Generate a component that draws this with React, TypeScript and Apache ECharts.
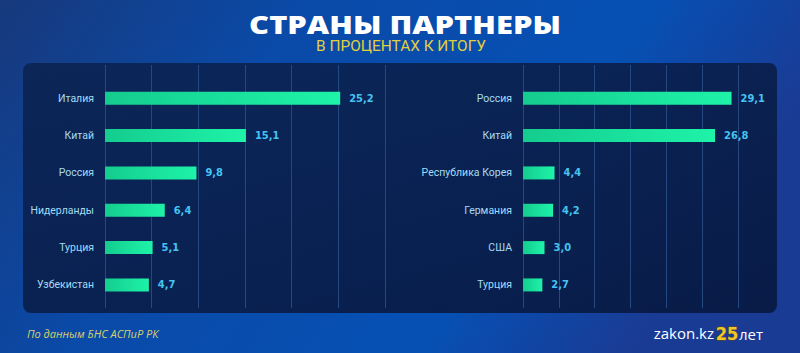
import React, { useEffect, useRef } from "react";
import * as echarts from "echarts";

const leftCategories = ["Италия", "Китай", "Россия", "Нидерланды", "Турция", "Узбекистан"];
const leftValues = [25.2, 15.1, 9.8, 6.4, 5.1, 4.7];
const rightCategories = ["Россия", "Китай", "Республика Корея", "Германия", "США", "Турция"];
const rightValues = [29.1, 26.8, 4.4, 4.2, 3.0, 2.7];
const axisMax = 30;
const axisStep = 5;

const titleText = "СТРАНЫ ПАРТНЕРЫ";
const subtitleText = "В ПРОЦЕНТАХ К ИТОГУ";
const sourceText = "По данным БНС АСПиР РК";

export default function App() {
  const ref = useRef<HTMLDivElement>(null);
  useEffect(() => {
    if (!ref.current) return;
    const chart = echarts.init(ref.current, undefined, { renderer: "svg" });
    const barGrad = new echarts.graphic.LinearGradient(0, 0, 1, 0, [
      { offset: 0, color: "#14cc8e" },
      { offset: 0.5, color: "#19e09c" },
      { offset: 1, color: "#1ef3a8" },
    ]);
    const catLabel = {
      color: "#a4dcf4",
      fontFamily: "Roboto, sans-serif",
      fontSize: 10.5,
      margin: 11,
    };
    const valLabel = {
      show: true,
      position: "right",
      distance: 9,
      color: "#45c3f2",
      fontFamily: "'DejaVu Sans Condensed', sans-serif",
      fontWeight: "bold",
      fontSize: 11,
      formatter: (p: any) => Number(p.value).toFixed(1).replace(".", ","),
    };
    const hiddenX = (gi: number) => ({
      type: "value",
      gridIndex: gi,
      min: 0,
      max: axisMax,
      interval: axisStep,
      axisLine: { show: false },
      axisTick: { show: false },
      axisLabel: { show: false },
      splitLine: { show: false },
    });
    const lineX = (gi: number) => ({
      type: "value",
      gridIndex: gi,
      min: 0,
      max: axisMax,
      interval: axisStep,
      axisLine: { show: false },
      axisTick: { show: false },
      axisLabel: { show: false },
      splitLine: { show: true, lineStyle: { color: "#24487f", width: 1 } },
    });
    const catY = (gi: number, data: string[]) => ({
      type: "category",
      gridIndex: gi,
      inverse: true,
      data,
      axisLine: { show: false },
      axisTick: { show: false },
      axisLabel: catLabel,
      splitLine: { show: false },
    });
    const hiddenY = (gi: number) => ({
      type: "value",
      gridIndex: gi,
      show: false,
      min: 0,
      max: 1,
    });
    chart.setOption({
      animation: false,
      backgroundColor: new echarts.graphic.LinearGradient(0, 0, 1, 0.3, [
        { offset: 0, color: "#17397c" },
        { offset: 0.35, color: "#0a4aa8" },
        { offset: 0.75, color: "#0650b4" },
        { offset: 1, color: "#1a3b94" },
      ]),
      graphic: [
        {
          type: "rect",
          z: -10,
          shape: { x: 23, y: 63, width: 754, height: 250, r: 8 },
          style: {
            fill: new echarts.graphic.LinearGradient(0, 0, 1, 1, [
              { offset: 0, color: "rgba(11,36,84,0.92)" },
              { offset: 1, color: "rgba(8,26,68,0.95)" },
            ]),
          },
        },
        {
          type: "text",
          x: 405,
          y: 24,
          scaleX: 1.26,
          style: {
            text: titleText,
            fill: "#ffffff",
            fontFamily: "'Open Sans', sans-serif",
            fontWeight: 800,
            fontSize: 24.5,
            align: "center",
            verticalAlign: "middle",
          },
        },
        {
          type: "text",
          x: 401,
          y: 46,
          scaleX: 1.1,
          style: {
            text: subtitleText,
            fill: "#e2d03c",
            fontFamily: "Roboto, sans-serif",
            fontSize: 14,
            align: "center",
            verticalAlign: "middle",
          },
        },
        {
          type: "text",
          x: 27,
          y: 333,
          style: {
            text: sourceText,
            fill: "#d8d06a",
            fontFamily: "'Open Sans', sans-serif",
            fontStyle: "italic",
            fontSize: 11,
            align: "left",
            verticalAlign: "middle",
          },
        },
        {
          type: "text",
          x: 714,
          y: 333,
          style: {
            text: "zakon.kz",
            fill: "#ffffff",
            fontFamily: "'Open Sans', sans-serif",
            fontSize: 15,
            align: "right",
            verticalAlign: "middle",
          },
        },
        {
          type: "text",
          x: 727,
          y: 333,
          style: {
            text: "25",
            fill: "#f0c52a",
            stroke: "#6b4a08",
            lineWidth: 0.8,
            fontFamily: "'DejaVu Sans Condensed', sans-serif",
            fontWeight: "bold",
            fontSize: 18,
            align: "center",
            verticalAlign: "middle",
          },
        },
        {
          type: "text",
          x: 739,
          y: 334,
          style: {
            text: "лет",
            fill: "#ffffff",
            fontFamily: "'Open Sans', sans-serif",
            fontSize: 15,
            align: "left",
            verticalAlign: "middle",
          },
        },
      ],
      grid: [
        { left: 105, width: 280, top: 79.6, height: 224 },
        { left: 523, width: 215, top: 79.6, height: 224 },
        { left: 105, width: 280, top: 65, height: 243 },
        { left: 523, width: 215, top: 65, height: 243 },
      ],
      xAxis: [hiddenX(0), hiddenX(1), lineX(2), lineX(3)],
      yAxis: [catY(0, leftCategories), catY(1, rightCategories), hiddenY(2), hiddenY(3)],
      series: [
        {
          type: "bar",
          xAxisIndex: 0,
          yAxisIndex: 0,
          data: leftValues,
          barWidth: 13,
          itemStyle: { color: barGrad },
          label: valLabel,
          z: 5,
        },
        {
          type: "bar",
          xAxisIndex: 1,
          yAxisIndex: 1,
          data: rightValues,
          barWidth: 13,
          itemStyle: { color: barGrad },
          label: valLabel,
          z: 5,
        },
      ],
    });
    return () => chart.dispose();
  }, []);
  return (
    <div
      ref={ref}
      style={{ position: "fixed", left: 0, top: 0, width: 800, height: 353 }}
    />
  );
}
